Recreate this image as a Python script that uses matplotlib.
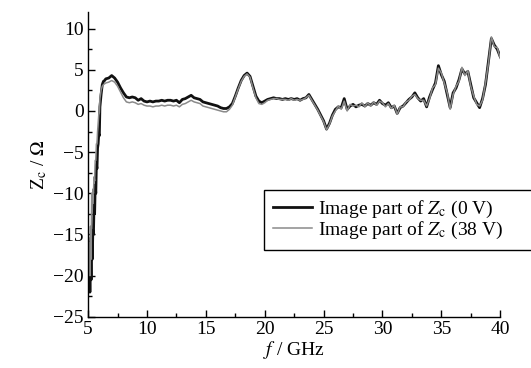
import matplotlib
matplotlib.use("Agg")
import matplotlib.pyplot as plt
from matplotlib.ticker import MultipleLocator

plt.rcParams['font.family'] = ['Liberation Serif', 'DejaVu Serif']
plt.rcParams['mathtext.fontset'] = 'stix'

# frequency grid (GHz): dense through the steep rise, then 0.25 GHz steps
freq_low = [5.00, 5.05, 5.10, 5.15, 5.20, 5.25, 5.30, 5.35, 5.40, 5.45,
            5.50, 5.55, 5.60, 5.65, 5.70, 5.75, 5.80, 5.85, 5.90, 5.95,
            6.00, 6.10, 6.20, 6.30, 6.40, 6.50]
freq_high = [6.75 + 0.25 * i for i in range(134)]
freq = freq_low + freq_high

# imaginary part of Zc at 0 V bias (ohm)
zc_0v = [
    -15.5, -21.8, -17.0, -22.0, -16.0, -20.5, -15.0, -18.0, -14.5, -15.0,
    -11.5, -12.5, -9.0, -10.0, -6.5, -7.0, -4.5, -4.0, -2.8, -3.0,
    0.5, 2.0, 3.2, 3.6, 3.7, 3.9,
    # 6.75 .. 16.5
    4.0, 4.3, 4.0, 3.5, 2.8, 2.2, 1.7, 1.6, 1.7, 1.6,
    1.3, 1.5, 1.2, 1.1, 1.2, 1.1, 1.2, 1.2, 1.3, 1.2,
    1.3, 1.3, 1.2, 1.3, 1.0, 1.4, 1.5, 1.7, 1.9, 1.6,
    1.5, 1.4, 1.1, 1.0, 0.9, 0.8, 0.7, 0.6, 0.4, 0.3,
    # 16.75 .. 26.5
    0.3, 0.5, 0.9, 1.8, 2.8, 3.7, 4.3, 4.6, 4.2, 3.0,
    1.8, 1.2, 1.0, 1.2, 1.4, 1.5, 1.6, 1.5, 1.5, 1.4,
    1.5, 1.4, 1.5, 1.4, 1.5, 1.3, 1.5, 1.6, 2.0, 1.4,
    0.8, 0.2, -0.5, -1.2, -2.2, -1.5, -0.5, 0.2, 0.5, 0.4,
    # 26.75 .. 36.5
    1.5, 0.2, 0.6, 0.8, 0.5, 0.7, 0.8, 0.6, 0.9, 0.7,
    1.0, 0.8, 1.3, 0.9, 0.7, 1.0, 0.4, 0.6, -0.3, 0.4,
    0.6, 1.0, 1.4, 1.7, 2.2, 1.6, 1.2, 1.5, 0.5, 1.7,
    2.6, 3.4, 5.5, 4.4, 3.6, 2.0, 0.4, 2.2, 2.8, 3.8,
    # 36.75 .. 40.0
    5.1, 4.5, 4.8, 3.2, 1.6, 1.0, 0.4, 1.5, 3.2, 6.0,
    8.8, 8.0, 7.5, 6.6,
]

# imaginary part of Zc at 38 V bias (ohm)
zc_38v = [
    -15.0, -19.5, -16.0, -20.0, -14.0, -18.0, -10.0, -12.0, -9.5, -10.0,
    -8.0, -8.5, -6.0, -6.0, -4.0, -4.0, -2.5, -1.5, -0.5, -0.2,
    1.5, 2.5, 3.0, 3.2, 3.3, 3.4,
    # 6.75 .. 16.5
    3.5, 3.7, 3.5, 3.0, 2.3, 1.6, 1.1, 1.0, 1.1, 1.0,
    0.8, 0.9, 0.7, 0.6, 0.6, 0.5, 0.6, 0.6, 0.7, 0.6,
    0.7, 0.7, 0.6, 0.7, 0.5, 0.8, 0.9, 1.1, 1.3, 1.1,
    1.0, 0.9, 0.6, 0.5, 0.4, 0.3, 0.2, 0.1, 0.0, -0.1,
    # 16.75 .. 26.5
    -0.1, 0.2, 0.7, 1.7, 2.7, 3.6, 4.2, 4.5, 4.1, 2.8,
    1.6, 0.9, 0.8, 1.0, 1.3, 1.4, 1.5, 1.5, 1.4, 1.4,
    1.4, 1.3, 1.5, 1.3, 1.4, 1.3, 1.4, 1.6, 1.9, 1.3,
    0.7, 0.1, -0.6, -1.3, -2.3, -1.6, -0.6, 0.0, 0.6, 0.2,
    # 26.75 .. 36.5
    1.2, 0.0, 0.8, 0.6, 0.7, 0.5, 1.0, 0.5, 1.0, 0.6,
    1.1, 0.7, 1.2, 1.0, 0.5, 0.9, 0.3, 0.7, -0.4, 0.5,
    0.5, 1.1, 1.3, 1.8, 2.0, 1.5, 1.3, 1.3, 0.6, 1.5,
    2.8, 3.2, 5.2, 4.6, 3.4, 2.2, 0.2, 2.0, 3.0, 3.6,
    # 36.75 .. 40.0
    5.3, 4.3, 4.9, 3.0, 1.8, 0.8, 0.6, 1.3, 3.4, 5.8,
    9.0, 7.8, 7.7, 6.4,
]

fig = plt.figure(figsize=(5.31, 3.68), dpi=100)
ax = fig.add_axes([0.166, 0.139, 0.776, 0.828])

ax.plot(freq, zc_0v, color='#111111', lw=2.0, label=r'Image part of $Z_\mathrm{c}$ (0 V)')
ax.plot(freq, zc_38v, color='#8a8a8a', lw=1.1, label=r'Image part of $Z_\mathrm{c}$ (38 V)')

ax.set_xlim(5, 40)
ax.set_ylim(-25, 12)
ax.xaxis.set_major_locator(MultipleLocator(5))
ax.xaxis.set_minor_locator(MultipleLocator(2.5))
ax.yaxis.set_major_locator(MultipleLocator(5))
ax.yaxis.set_minor_locator(MultipleLocator(2.5))

for side in ('top', 'right'):
    ax.spines[side].set_visible(False)
ax.spines['left'].set_linewidth(1.0)
ax.spines['bottom'].set_linewidth(1.0)
ax.tick_params(which='major', direction='in', length=5, width=1.0, labelsize=14, pad=3)
ax.tick_params(which='minor', direction='in', length=3, width=1.0)

ax.set_xlabel(r'$f$ / GHz', fontsize=14, labelpad=1)
ax.set_ylabel(r'Z$_\mathrm{c}$ / $\Omega$', fontsize=14, labelpad=3)

# legend box runs past the right end of the x axis
leg = ax.legend(loc='lower left', bbox_to_anchor=(0.427, 0.22, 0.65, 0.16), mode='expand',
                fontsize=14, frameon=True, fancybox=False, edgecolor='black', framealpha=1,
                handlelength=2.0, handletextpad=0.3, labelspacing=0.0,
                borderpad=0.45, borderaxespad=0)
leg.get_frame().set_linewidth(1.0)

fig.savefig('out.png', dpi=100)
